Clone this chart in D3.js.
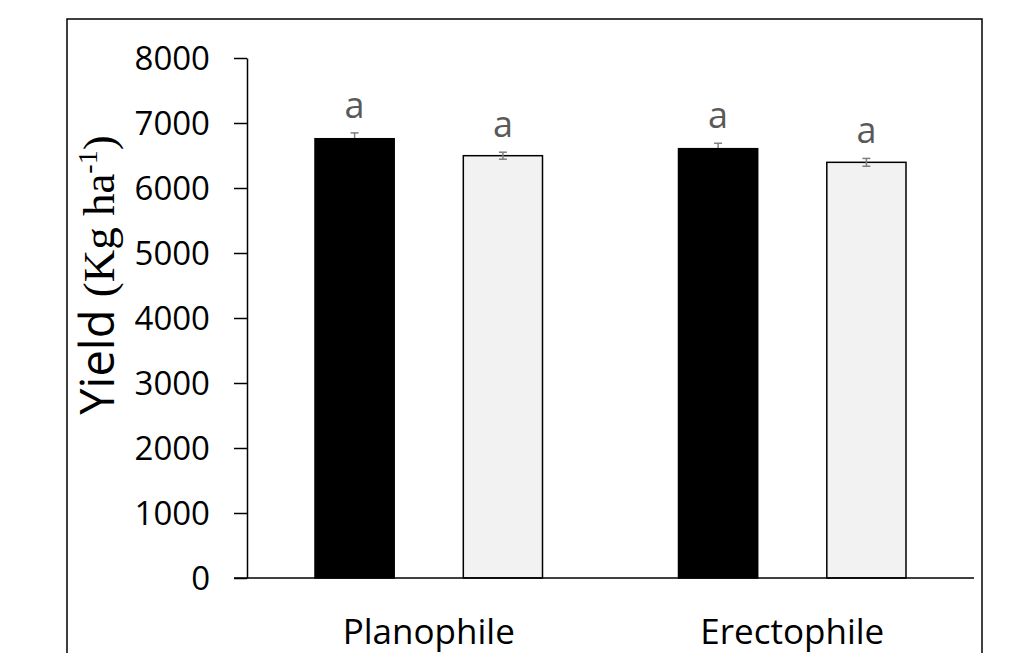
<!DOCTYPE html>
<html>
<head>
<meta charset="utf-8">
<script src="https://cdn.jsdelivr.net/npm/d3@7"></script>
<style>
  body { margin: 0; background: #fff; }
  svg { display: block; }
</style>
</head>
<body>
<div id="chart"></div>
<script>
// data
const categories = ["Planophile", "Erectophile"];
const series = ["s1", "s2"];
const yieldValues = [[6758, 6497], [6605, 6395]];
const errValues = [[90, 54], [83, 60]];
const letters = [["a", "a"], ["a", "a"]];
const yTicks = [0, 1000, 2000, 3000, 4000, 5000, 6000, 7000, 8000];

const W = 1017, H = 653;
const fills = ["#000000", "#f2f2f2"];

let svg = d3.select("#chart").append("svg")
    .attr("width", W)
    .attr("height", H);

// outer frame (bottom runs off the page)
svg.append("rect")
    .attr("x", 67).attr("y", 19)
    .attr("width", 915).attr("height", 700)
    .attr("fill", "none")
    .attr("stroke", "#000")
    .attr("stroke-width", 1.5);

let x0 = d3.scaleBand()
    .domain(categories)
    .range([247, 974])
    .padding(0);

let x1 = d3.scaleBand()
    .domain(series)
    .range([68, 295.5])
    .paddingInner(0.466)
    .paddingOuter(0);

let y = d3.scaleLinear()
    .domain([0, 8000])
    .range([578, 58]);

// y axis
let yAxis = svg.append("g")
    .attr("transform", "translate(247,0)")
    .call(d3.axisLeft(y).tickValues(yTicks).tickSizeInner(13).tickSizeOuter(0).tickPadding(24).tickFormat(d3.format("d")));
yAxis.select(".domain").attr("stroke", "#000").attr("stroke-width", 1.5);
yAxis.selectAll(".tick line").attr("stroke", "#000").attr("stroke-width", 1.5);
yAxis.selectAll(".tick text")
    .attr("font-family", "'Open Sans', sans-serif")
    .attr("font-size", 33)
    .attr("fill", "#000")
    .attr("dy", "0.36em");

function drawErr(g, rows) {
    let eb = g.selectAll(null)
        .data(rows)
        .enter().append("g")
        .attr("class", "err")
        .attr("stroke", "#7f7f7f")
        .attr("stroke-width", 1.5);
    eb.append("line")
        .attr("x1", d => x1(d.s) + x1.bandwidth() / 2)
        .attr("x2", d => x1(d.s) + x1.bandwidth() / 2)
        .attr("y1", d => y(d.v - d.e))
        .attr("y2", d => y(d.v + d.e));
    eb.append("line")
        .attr("x1", d => x1(d.s) + x1.bandwidth() / 2 - 4)
        .attr("x2", d => x1(d.s) + x1.bandwidth() / 2 + 4)
        .attr("y1", d => y(d.v + d.e))
        .attr("y2", d => y(d.v + d.e));
    eb.append("line")
        .attr("x1", d => x1(d.s) + x1.bandwidth() / 2 - 4)
        .attr("x2", d => x1(d.s) + x1.bandwidth() / 2 + 4)
        .attr("y1", d => y(d.v - d.e))
        .attr("y2", d => y(d.v - d.e));
}

// bars
let groups = svg.selectAll(".grp")
    .data(categories)
    .enter().append("g")
    .attr("class", "grp")
    .attr("transform", d => "translate(" + x0(d) + ",0)");

groups.each(function (cat, ci) {
    let g = d3.select(this);
    let rows = series.map((s, si) => ({
        s: s, si: si,
        v: yieldValues[ci][si],
        e: errValues[ci][si],
        lab: letters[ci][si]
    }));

    // the black bar hides the lower half of its own error bar
    drawErr(g, rows.filter(d => d.si == 0));

    g.selectAll("rect")
        .data(rows)
        .enter().append("rect")
        .attr("x", d => x1(d.s))
        .attr("y", d => y(d.v))
        .attr("width", x1.bandwidth())
        .attr("height", d => y(0) - y(d.v))
        .attr("fill", d => fills[d.si])
        .attr("stroke", "#000")
        .attr("stroke-width", 1.5);

    drawErr(g, rows.filter(d => d.si != 0));

    // significance letters
    g.selectAll(".lab")
        .data(rows)
        .enter().append("text")
        .attr("class", "lab")
        .attr("x", d => x1(d.s) + x1.bandwidth() / 2)
        .attr("y", d => y(d.v + d.e) - 15)
        .attr("text-anchor", "middle")
        .attr("font-family", "'Open Sans', sans-serif")
        .attr("font-size", 36)
        .attr("fill", "#595959")
        .text(d => d.lab);
});

// x axis
let xAxis = svg.append("g")
    .attr("transform", "translate(0,578)")
    .call(d3.axisBottom(x0).tickSize(0).tickPadding(0));
xAxis.select(".domain").remove();
xAxis.append("line")
    .attr("x1", x0.range()[0] - 13)
    .attr("x2", x0.range()[1])
    .attr("stroke", "#000")
    .attr("stroke-width", 1.5);
xAxis.selectAll(".tick text")
    .attr("y", 66)
    .attr("dy", 0)
    .attr("font-family", "'Open Sans', sans-serif")
    .attr("font-size", 35)
    .attr("fill", "#000");

// y label
let yl = svg.append("text")
    .attr("transform", "translate(114,275) rotate(-90)")
    .attr("text-anchor", "middle")
    .attr("fill", "#000");
yl.append("tspan")
    .attr("font-family", "'Open Sans', sans-serif")
    .attr("font-size", 47)
    .text("Yield ");
yl.append("tspan")
    .attr("font-family", "'Liberation Serif', 'Times New Roman', serif")
    .attr("font-size", 45)
    .text("(Kg ha");
yl.append("tspan")
    .attr("font-family", "'Liberation Serif', 'Times New Roman', serif")
    .attr("font-size", 28)
    .attr("dy", -17)
    .text("-1");
yl.append("tspan")
    .attr("font-family", "'Liberation Serif', 'Times New Roman', serif")
    .attr("font-size", 45)
    .attr("dy", 17)
    .text(")");
</script>
</body>
</html>
